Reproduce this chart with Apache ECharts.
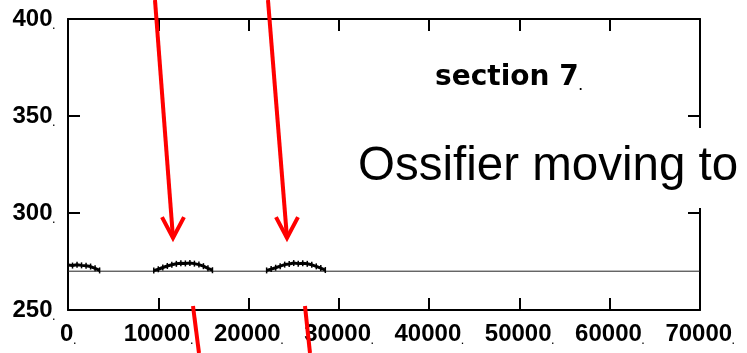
<!DOCTYPE html>
<html>
<head>
<meta charset="utf-8">
<script src="https://cdn.jsdelivr.net/npm/echarts@6/dist/echarts.min.js"></script>
<style>
  html, body { margin: 0; padding: 0; background: #fff; }
  #chart { width: 747px; height: 353px; }
</style>
</head>
<body>
<div id="chart"></div>
<script>
// axis ranges
var xTicks = [0, 10000, 20000, 30000, 40000, 50000, 60000, 70000];
var yTicks = [250, 300, 350, 400];

// flat baseline
var baseX = [0, 70000];
var baseY = [270, 270];

// noisy segments
var seg0X = [0, 500, 1000, 1500, 2000, 2500, 3000, 3500];
var seg0Y = [273.2, 272.9, 273.3, 273.0, 272.8, 272.4, 271.5, 270.4];

var hump1X = [9500, 10000, 10500, 11000, 11500, 12000, 12500, 13000, 13500, 14000, 14500, 15000, 15500, 16000];
var hump1Y = [270.3, 271.0, 271.9, 272.7, 273.3, 273.8, 274.1, 274.0, 274.2, 273.9, 273.4, 272.6, 271.5, 270.5];

var hump2X = [22000, 22500, 23000, 23500, 24000, 24500, 25000, 25500, 26000, 26500, 27000, 27500, 28000, 28500];
var hump2Y = [270.4, 271.1, 271.8, 272.6, 273.4, 273.7, 274.2, 273.9, 274.1, 273.8, 273.3, 272.5, 271.6, 270.6];

// red annotations, in data units
var arrowShafts = [
    [9635, 409.8, 11630, 287.1],
    [22150, 409.8, 24255, 287.1]
];
var arrowWings = [
    [10411, 297.9, 11630, 287.1, 12847, 297.9],
    [23036, 297.9, 24255, 287.1, 25473, 297.9]
];
var slashes = [
    [13844, 252.1, 14508, 227.8],
    [26248, 252.1, 26802, 227.8]
];

var sectionLabel = 'section 7';
var noteLabel = 'Ossifier moving to';

function pairs(xs, ys) {
    return xs.map(function (x, i) { return [x, ys[i]]; });
}

function dotted(v) {
    return '{a|' + v + '}{d|.}';
}

function labelRich() {
    return {
        a: { fontFamily: 'Liberation Sans', fontWeight: 'bold', fontSize: 24, color: '#000' },
        d: { fontFamily: 'Liberation Sans', fontWeight: 'bold', fontSize: 9, color: '#000', verticalAlign: 'bottom' }
    };
}

// fresh axis pieces for each axis
function frame(extra) {
    return Object.assign({
        type: 'value',
        axisLine: { show: true, onZero: false, lineStyle: { color: '#000', width: 2 } },
        axisTick: { show: true, inside: true, length: 12, lineStyle: { color: '#000', width: 2 } },
        splitLine: { show: false },
        axisLabel: { show: false }
    }, extra);
}

var noisy = {
    type: 'line',
    symbol: 'rect',
    symbolSize: [1.5, 6],
    showAllSymbol: true,
    itemStyle: { color: '#000' },
    lineStyle: { color: '#000', width: 3 },
    silent: true
};

var chart = echarts.init(document.getElementById('chart'));

chart.setOption({
    animation: false,
    backgroundColor: '#fff',
    grid: { left: 68, right: 47, top: 19, bottom: 43, containLabel: false },
    xAxis: [
        frame({
            position: 'bottom', min: 0, max: 70000, interval: 10000,
            axisLabel: { show: true, margin: 12, formatter: dotted, rich: labelRich() }
        }),
        frame({ position: 'top', min: 0, max: 70000, interval: 10000 })
    ],
    yAxis: [
        frame({
            position: 'left', min: 250, max: 400, interval: 50,
            axisLabel: { show: true, margin: 13, formatter: dotted, rich: labelRich() }
        }),
        frame({ position: 'right', min: 250, max: 400, interval: 50 })
    ],
    series: [
        {
            type: 'line', symbol: 'none', silent: true,
            lineStyle: { color: '#222', width: 1 },
            data: pairs(baseX, baseY)
        },
        Object.assign({}, noisy, { data: pairs(seg0X, seg0Y) }),
        Object.assign({}, noisy, { data: pairs(hump1X, hump1Y) }),
        Object.assign({}, noisy, { data: pairs(hump2X, hump2Y) })
    ]
});

function px(x, y) {
    return chart.convertToPixel({ gridIndex: 0 }, [x, y]);
}

function redStyle() {
    return { stroke: '#ff0000', lineWidth: 4, fill: null, lineCap: 'butt', lineJoin: 'miter' };
}
var graphics = [];

arrowShafts.concat(slashes).forEach(function (s) {
    var a = px(s[0], s[1]), b = px(s[2], s[3]);
    graphics.push({
        type: 'line', z: 100,
        shape: { x1: a[0], y1: a[1], x2: b[0], y2: b[1] },
        style: redStyle()
    });
});
arrowWings.forEach(function (w) {
    graphics.push({
        type: 'polyline', z: 100,
        shape: { points: [px(w[0], w[1]), px(w[2], w[3]), px(w[4], w[5])] },
        style: redStyle()
    });
});

// white box behind the note hides part of the right axis
graphics.push({
    type: 'rect', z: 110,
    shape: { x: 352, y: 128, width: 395, height: 80 },
    style: { fill: '#fff' }
});
graphics.push({
    type: 'text', z: 120, left: 358, top: 143,
    style: {
        text: noteLabel,
        fontFamily: 'Liberation Sans', fontSize: 47.5, fill: '#000'
    }
});
graphics.push({
    type: 'text', z: 120, left: 435, top: 64,
    style: {
        text: '{a|' + sectionLabel + '}{d|.}',
        rich: {
            a: { fontFamily: 'DejaVu Sans', fontWeight: 'bold', fontSize: 28, fill: '#000' },
            d: { fontFamily: 'DejaVu Sans', fontWeight: 'bold', fontSize: 10, fill: '#000', verticalAlign: 'bottom' }
        }
    }
});

chart.setOption({ graphic: graphics });

window.addEventListener('resize', function () {
    chart.resize();
});
</script>
</body>
</html>
